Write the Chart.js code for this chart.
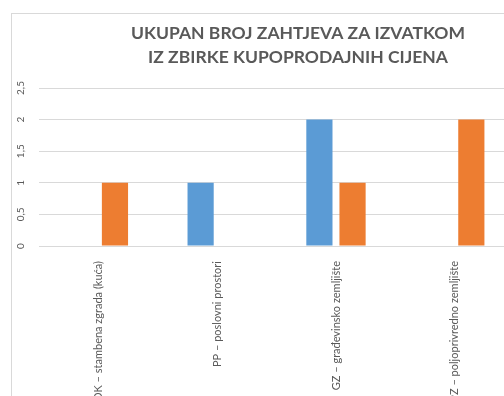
<!DOCTYPE html>
<html lang="hr">
<head>
<meta charset="UTF-8">
<title>Ukupan broj zahtjeva za izvatkom</title>
<script src="https://cdn.jsdelivr.net/npm/chart.js"></script>
<style>
body { margin: 0; overflow: hidden; background: #fff; }
#wrap { position: absolute; left: 11px; top: 13px; border: 1px solid #d9d9d9; }
</style>
</head>
<body>
<div id="wrap"><canvas id="myChart" width="572" height="420"></canvas></div>
<script>
// categories and counts per series
const categories = [
    'OK – stambena zgrada (kuća)',
    'PP – poslovni prostori',
    'GZ – građevinsko zemljište',
    'PZ – poljoprivredno zemljište'
];
const seriesNames = ['Niz 1', 'Niz 2'];
const series1 = [0, 1, 2, 0];
const series2 = [1, 0, 1, 2];
const yTickLabels = ['0', '0,5', '1', '1,5', '2', '2,5'];

const textColor = '#595959';
const gridColor = '#d9d9d9';
Chart.defaults.font.family = 'Lato, "Open Sans", sans-serif';

const ctx = document.getElementById('myChart').getContext('2d');
const myChart = new Chart(ctx, {
    type: 'bar',
    data: {
        labels: categories,
        datasets: [{
            label: seriesNames[0],
            data: series1,
            backgroundColor: '#5b9bd5',
            categoryPercentage: 0.558,
            barPercentage: 0.79
        }, {
            label: seriesNames[1],
            data: series2,
            backgroundColor: '#ed7d31',
            categoryPercentage: 0.558,
            barPercentage: 0.79
        }]
    },
    options: {
        responsive: false,
        animation: false,
        devicePixelRatio: 1,
        plugins: {
            title: {
                display: true,
                text: ['UKUPAN BROJ ZAHTJEVA ZA IZVATKOM', 'IZ ZBIRKE KUPOPRODAJNIH CIJENA'],
                color: textColor,
                font: { size: 17.5, weight: 'bold', lineHeight: 1.4 },
                padding: { top: 7, bottom: 18 }
            },
            legend: {
                position: 'right',
                fullSize: false,
                labels: { boxWidth: 10, padding: 22, color: textColor, font: { size: 10 } }
            },
            tooltip: { enabled: false }
        },
        scales: {
            x: {
                grid: { display: false },
                border: { color: gridColor },
                ticks: {
                    color: textColor,
                    font: { size: 11 },
                    minRotation: 90,
                    maxRotation: 90,
                    autoSkip: false,
                    padding: 7
                },
                afterFit: (scale) => { scale.height = 188; }
            },
            y: {
                min: 0,
                max: 2.5,
                grid: { color: gridColor, drawTicks: false },
                border: { display: false },
                ticks: {
                    stepSize: 0.5,
                    color: textColor,
                    font: { size: 10 },
                    minRotation: 90,
                    maxRotation: 90,
                    crossAlign: 'center',
                    padding: 11,
                    callback: (value, index) => yTickLabels[index]
                },
                afterFit: (scale) => { scale.width = 27; }
            }
        }
    }
});
</script>
</body>
</html>
